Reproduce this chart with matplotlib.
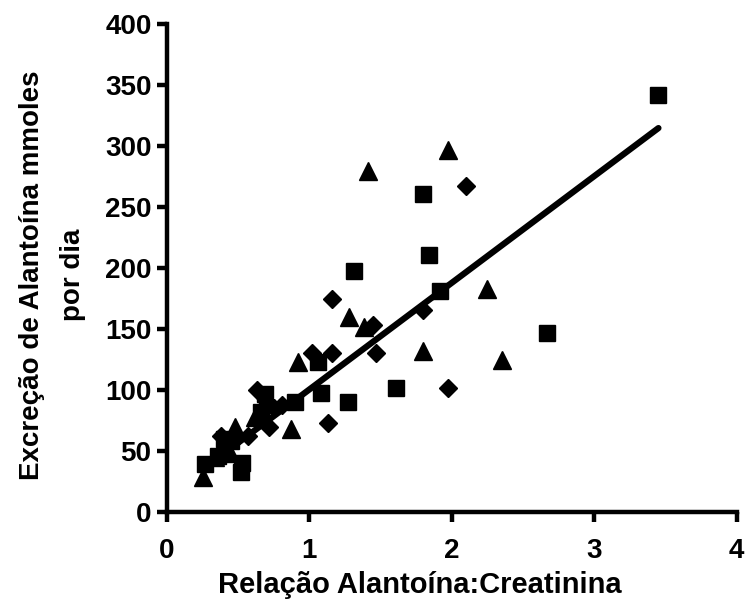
import numpy as np
import matplotlib
matplotlib.use("Agg")
from matplotlib import pyplot as plt

plt.rcParams['font.family'] = ['Liberation Sans', 'DejaVu Sans']
plt.rcParams['font.weight'] = 'bold'

# values
sq_x = [3.45, 1.80, 1.84, 1.31, 1.92, 2.67, 1.06, 1.08, 1.27, 1.61, 0.90, 0.69,
        0.27, 0.36, 0.40, 0.45, 0.52, 0.53, 0.66]
sq_y = [342, 261, 211, 198, 181, 147, 123, 98, 90, 102, 90, 97,
        39, 46, 60, 58, 33, 40, 82]

tri_x = [1.97, 1.41, 2.25, 1.80, 2.35, 1.28, 1.38, 0.92, 0.87, 0.48, 0.25,
         0.44, 0.62, 0.68, 0.34]
tri_y = [297, 280, 183, 132, 125, 160, 152, 123, 68, 70, 29,
         48, 78, 90, 45]

dia_x = [2.10, 1.80, 1.97, 1.16, 1.02, 1.16, 1.45, 1.47, 1.13, 0.63, 0.57,
         0.72, 0.81, 0.67, 0.38, 0.48, 0.75]
dia_y = [267, 166, 102, 175, 130, 130, 153, 130, 73, 100, 62,
         70, 88, 77, 62, 60, 85]

# trend line
slope = 87.5
intercept = 13.0
line_x = np.array([0.25, 3.45])

fig = plt.figure(figsize=(7.45, 6.07), dpi=100)
ax = fig.add_axes([0.224, 0.1565, 0.765, 0.8035])

ax.plot(dia_x, dia_y, 'D', color='black', markersize=9, zorder=3)
ax.plot(tri_x, tri_y, '^', color='black', markersize=13, zorder=3)
ax.plot(sq_x, sq_y, 's', color='black', markersize=12, zorder=3)
ax.plot(line_x, slope * line_x + intercept, color='black', linewidth=4.5,
        solid_capstyle='round', zorder=4)

ax.set_xlim(0, 4)
ax.set_ylim(0, 400)
ax.set_xticks([0, 1, 2, 3, 4])
ax.set_yticks(range(0, 401, 50))

for s in ['top', 'right']:
    ax.spines[s].set_visible(False)
for s in ['left', 'bottom']:
    ax.spines[s].set_linewidth(3.2)

ax.tick_params(axis='both', direction='out', length=7, width=3.2,
               labelsize=20)
ax.tick_params(axis='x', pad=12)
ax.tick_params(axis='y', pad=4)

ax.set_xlabel('Relação Alantoína:Creatinina', fontsize=21, fontweight='bold',
              va='center')
ax.xaxis.set_label_coords(0.444, -0.15)
ax.set_ylabel('Excreção de Alantoína mmoles\npor dia', fontsize=20,
              fontweight='bold', va='center', linespacing=1.75)
ax.yaxis.set_label_coords(-0.2, 0.486)

fig.savefig('out.png', dpi=100)
